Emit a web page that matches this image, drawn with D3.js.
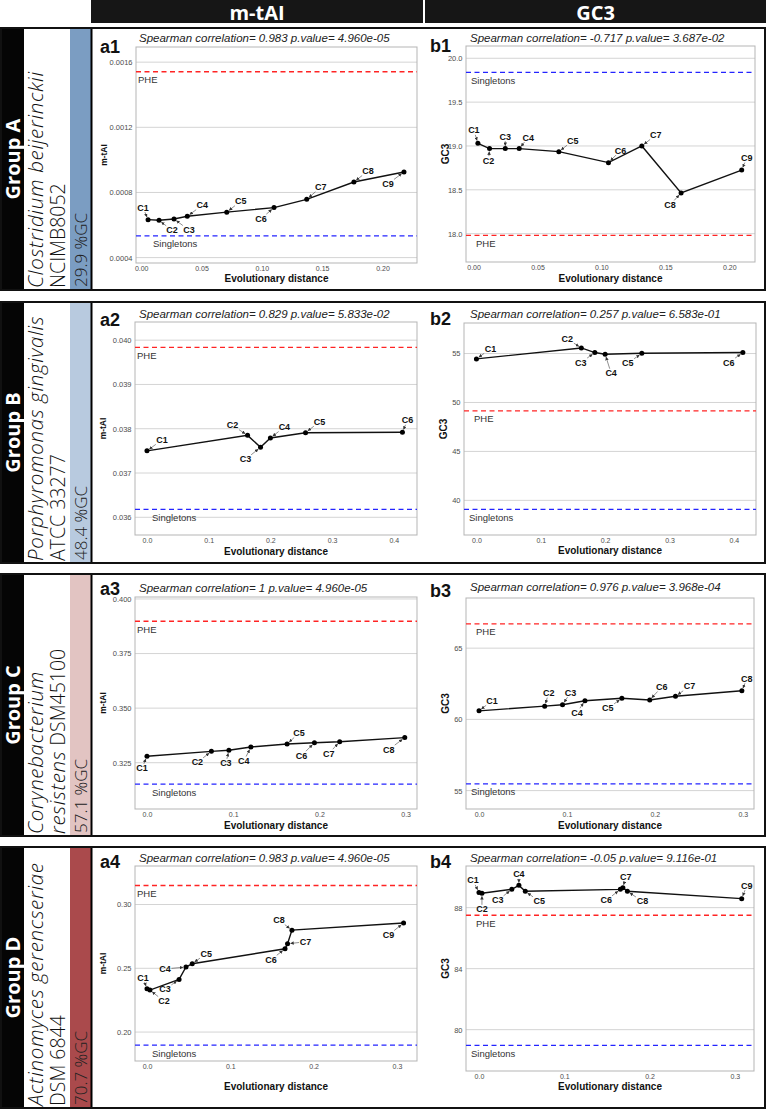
<!DOCTYPE html>
<html><head><meta charset="utf-8">
<script src="https://cdn.jsdelivr.net/npm/d3@7"></script>
<style>body{margin:0;background:#fff}</style>
</head><body>
<svg id="c" width="766" height="1110" xmlns="http://www.w3.org/2000/svg"></svg>
<script>
// ---------------- DATA ----------------
const columnTitles = ["m-tAI", "GC3"];
const groupNames = ["Group A", "Group B", "Group C", "Group D"];
const speciesText = [
  [[["Clostridium beijerinckii", true]], [["NCIMB8052", false]]],
  [[["Porphyromonas gingivalis", true]], [["ATCC 33277", false]]],
  [[["Corynebacterium", true]], [["resistens", true], [" DSM45100", false]]],
  [[["Actinomyces gerencseriae", true]], [["DSM 6844", false]]]
];
const gcContent = ["29.9 %GC", "48.4 %GC", "57.1 %GC", "70.7 %GC"];

// Group A
const clustersA = ["C1","C2","C3","C4","C5","C6","C7","C8","C9"];
const distA_mtai = [0.0057,0.0148,0.0272,0.0382,0.0709,0.1101,0.1372,0.1763,0.2178];
const mtaiA = [0.000633,0.000629,0.000637,0.000654,0.000679,0.000707,0.000758,0.000864,0.000926];
const distA_gc3 = [0.0034,0.0125,0.0248,0.0357,0.0667,0.1055,0.1316,0.1623,0.2097];
const gc3A = [19.03,18.97,18.97,18.97,18.935,18.81,19.0,18.465,18.725];
const refA_mtai = [0.001541, 0.000533];   // PHE, Singletons
const refA_gc3 = [17.98, 19.84];

// Group B
const clustersB = ["C1","C2","C3","C4","C5","C6"];
const distB = [0, 0.163, 0.184, 0.2, 0.257, 0.414];
const mtaiB = [0.03750,0.03785,0.03758,0.03779,0.03791,0.03792];
const gc3B = [54.45,55.57,55.1,54.93,55.03,55.1];
const refB_mtai = [0.039835, 0.03618];
const refB_gc3 = [49.14, 39.08];

// Group C
const clustersC = ["C1","C2","C3","C4","C5","C6","C7","C8"];
const distC = [0, 0.0747, 0.095, 0.1205, 0.1625, 0.1942, 0.2235, 0.299];
const mtaiC = [0.32793,0.3302,0.33068,0.3322,0.33356,0.33416,0.33462,0.3365];
const gc3C = [60.6,60.93,61.03,61.31,61.48,61.36,61.62,62.01];
const refC_mtai = [0.3898, 0.3152];
const refC_gc3 = [66.71, 55.47];

// Group D
const clustersD = ["C1","C2","C3","C4","C5","C6","C7","C8","C9"];
const distD = [0, 0.0035, 0.0385, 0.0468, 0.0543, 0.1657, 0.1687, 0.174, 0.308];
const mtaiD = [0.234,0.2329,0.2413,0.251,0.2536,0.2653,0.2692,0.2799,0.2855];
const gc3D = [89.0,88.94,89.2,89.46,89.07,89.2,89.31,89.07,88.59];
const refD_mtai = [0.3149, 0.1898];
const refD_gc3 = [87.5, 78.97];

const refNames = ["PHE", "Singletons"];
const spearman = [["0.983","4.960e-05"],["-0.717","3.687e-02"],["0.829","5.833e-02"],["0.257","6.583e-01"],
                  ["1","4.960e-05"],["0.976","3.968e-04"],["0.983","4.960e-05"],["-0.05","9.116e-01"]];
const panelIds = ["a1","b1","a2","b2","a3","b3","a4","b4"];

const ticksA_mtai = [0.0004,0.0008,0.0012,0.0016];
const ticksA_gc3 = [18.0,18.5,19.0,19.5,20.0];
const ticksA_x = [0,0.05,0.10,0.15,0.20];
const ticksB_mtai = [0.036,0.037,0.038,0.039,0.040];
const ticksB_gc3 = [40,45,50,55];
const ticksB_x = [0,0.1,0.2,0.3,0.4];
const ticksC_mtai = [0.325,0.350,0.375,0.400];
const ticksC_gc3 = [55,60,65];
const ticksCD_x = [0,0.1,0.2,0.3];
const ticksD_mtai = [0.20,0.25,0.30];
const ticksD_gc3 = [80,84,88];

// ---------------- LAYOUT / STYLE ----------------
const rows = [{t:28,b:290},{t:302,b:563},{t:574,b:836},{t:847,b:1108}];
const gcColors = ["#7b9dc2","#b8cadf","#e2c4c2","#aa4a4c"];
const header = [{x0:91,x1:423},{x0:425,x1:766}];

const panels = [
 {x:distA_mtai,y:mtaiA,lab:clustersA,ref:refA_mtai,yt:ticksA_mtai,yf:".4f",xt:ticksA_x,xf:".2f",yTitle:"m-tAI",
  r:{x0:136,x1:417,y0:47,y1:263},xd:[-0.0043,0.2286],yd:[0.000367,0.001693],titleY:42,labY:53,xTitleY:281.5,
  off:[[-5,-12],[13,10],[15,11],[15,-11],[14,-11],[-13,11],[14,-12],[14,-11],[-16,12]]},
 {x:distA_gc3,y:gc3A,lab:clustersA,ref:refA_gc3,yt:ticksA_gc3,yf:".1f",xt:ticksA_x,xf:".2f",yTitle:"GC3",
  r:{x0:466,x1:755,y0:46,y1:262},xd:[-0.0059,0.2201],yd:[17.677,20.14],titleY:41.5,labY:52,xTitleY:282,
  off:[[-4,-13],[-1,12],[0,-12],[9,-11],[14,-11],[12,-12],[14,-11],[-11,12],[5,-12]]},
 {x:distB,y:mtaiB,lab:clustersB,ref:refB_mtai,yt:ticksB_mtai,yf:".3f",xt:ticksB_x,xf:".1f",yTitle:"m-tAI",
  r:{x0:135,x1:417,y0:322,y1:535},xd:[-0.0194,0.4376],yd:[0.0356,0.04041],titleY:318,labY:325.5,xTitleY:554.5,
  off:[[15,-11],[-15,-10],[-15,12],[14,-11],[14,-11],[5,-12]]},
 {x:distB,y:gc3B,lab:clustersB,ref:refB_gc3,yt:ticksB_gc3,yf:"d",xt:ticksB_x,xf:".1f",yTitle:"GC3",
  r:{x0:464,x1:756,y0:323,y1:535},xd:[-0.0193,0.4344],yd:[36.46,58.12],titleY:318,labY:325,xTitleY:554,
  off:[[14,-10],[-14,-9],[-14,10],[6,19],[-14,10],[-14,10]]},
 {x:distC,y:mtaiC,lab:clustersC,ref:refC_mtai,yt:ticksC_mtai,yf:".3f",xt:ticksCD_x,xf:".1f",yTitle:"m-tAI",
  r:{x0:135,x1:417,y0:597,y1:809},xd:[-0.0139,0.3132],yd:[0.3038,0.4009],titleY:591.5,labY:595,xTitleY:829,
  off:[[-5,12],[-14,11],[-3,13],[-7,14],[12,-11],[-13,13],[-11,12],[-16,12]]},
 {x:distC,y:gc3C,lab:clustersC,ref:refC_gc3,yt:ticksC_gc3,yf:"d",xt:ticksCD_x,xf:".1f",yTitle:"GC3",
  r:{x0:466,x1:754,y0:598,y1:809},xd:[-0.0148,0.3128],yd:[53.71,68.52],titleY:591,labY:596.5,xTitleY:829,
  off:[[13,-10],[4,-13],[8,-12],[-8,12],[-14,10],[12,-13],[14,-10],[5,-12]]},
 {x:distD,y:mtaiD,lab:clustersD,ref:refD_mtai,yt:ticksD_mtai,yf:".2f",xt:ticksCD_x,xf:".1f",yTitle:"m-tAI",
  r:{x0:135,x1:417,y0:866,y1:1061},xd:[-0.0144,0.3241],yd:[0.1773,0.3302],titleY:861.5,labY:868,xTitleY:1090,
  off:[[-4,-11],[14,11],[-14,10],[-21,2],[14,-10],[-14,11],[18,-2],[-13,-10],[-15,12]]},
 {x:distD,y:gc3D,lab:clustersD,ref:refD_gc3,yt:ticksD_gc3,yf:"d",xt:ticksCD_x,xf:".1f",yTitle:"GC3",
  r:{x0:466,x1:754,y0:866,y1:1071},xd:[-0.0152,0.3224],yd:[77.29,90.73],titleY:861.5,labY:868,xTitleY:1090,
  off:[[-6,-12],[0,16],[-14,11],[0,-11],[14,10],[-14,11],[3,-11],[15,10],[5,-13]]}
];

const SANS = "'Liberation Sans', Arial, Helvetica, sans-serif";
const OPEN = "'Open Sans', 'Noto Sans', sans-serif";

// ---------------- DRAW ----------------
const svg = d3.select("#c");
const defs = svg.append("defs");
defs.append("marker").attr("id","arr").attr("viewBox","0 0 6 6").attr("refX",5.5).attr("refY",3)
  .attr("markerWidth",3.5).attr("markerHeight",3.5).attr("markerUnits","userSpaceOnUse").attr("orient","auto")
  .append("path").attr("d","M0,0L6,3L0,6Z").attr("fill","#333");

// header
columnTitles.forEach((t,i)=>{
  const h = header[i];
  svg.append("rect").attr("x",h.x0).attr("y",0).attr("width",h.x1-h.x0).attr("height",23).attr("fill","#161616");
  svg.append("text").attr("x",(h.x0+h.x1)/2).attr("y",12).attr("text-anchor","middle").attr("dominant-baseline","central")
    .attr("fill","#fff").attr("font-family",OPEN).attr("font-weight",700).attr("font-size",20).text(t);
});

// rows (left labels)
rows.forEach((r,i)=>{
  const g = svg.append("g");
  g.append("rect").attr("x",0).attr("y",r.t).attr("width",24).attr("height",r.b-r.t).attr("fill","#050505");
  g.append("rect").attr("x",70).attr("y",r.t).attr("width",21).attr("height",r.b-r.t).attr("fill",gcColors[i]);
  g.append("text").attr("transform",`translate(12.5,${(r.t+r.b)/2}) rotate(-90)`).attr("text-anchor","middle")
    .attr("dominant-baseline","central").attr("fill","#fff").attr("font-family",OPEN).attr("font-weight",700)
    .attr("font-size",20).text(groupNames[i]);
  const lineX = [35, 56.5];
  speciesText[i].forEach((line,j)=>{
    const tx = g.append("text").attr("transform",`translate(${lineX[j]},${r.b-2}) rotate(-90)`)
      .attr("text-anchor","start").attr("dominant-baseline","central").attr("fill","#111")
      .attr("font-family",OPEN).attr("font-weight",300).attr("font-size",19.5);
    line.forEach(seg=>tx.append("tspan").attr("font-style",seg[1]?"italic":"normal")
      .attr("font-size",seg[1]?20.5:19.5).attr("letter-spacing",seg[1]?0.7:0).text(seg[0]));
  });
  g.append("text").attr("transform",`translate(80.5,${r.b-3}) rotate(-90)`).attr("text-anchor","start")
    .attr("dominant-baseline","central").attr("fill","#222").attr("font-family",OPEN).attr("font-weight",300)
    .attr("font-size",17).text(gcContent[i]);
});

// panels
panels.forEach((p,k)=>{
  const g = svg.append("g");
  const r = p.r;
  const x = d3.scaleLinear().domain(p.xd).range([r.x0,r.x1]);
  const y = d3.scaleLinear().domain(p.yd).range([r.y1,r.y0]);
  const isA = k%2===0;

  // grid
  g.selectAll(".grid").data(p.yt).join("line").attr("x1",r.x0).attr("x2",r.x1)
    .attr("y1",d=>y(d)).attr("y2",d=>y(d)).attr("stroke","#d4d4d4").attr("stroke-width",1);
  // border
  g.append("rect").attr("x",r.x0).attr("y",r.y0).attr("width",r.x1-r.x0).attr("height",r.y1-r.y0)
    .attr("fill","none").attr("stroke","#b5b5b5").attr("stroke-width",1);

  // axes
  const ya = g.append("g").attr("transform",`translate(${r.x0},0)`)
    .call(d3.axisLeft(y).tickValues(p.yt).tickFormat(d3.format(p.yf)).tickSize(0).tickPadding(3.5));
  ya.select(".domain").remove();
  ya.selectAll("text").attr("font-size",7.5).attr("fill","#4d4d4d").attr("font-family",SANS);
  const xa = g.append("g").attr("transform",`translate(0,${r.y1})`)
    .call(d3.axisBottom(x).tickValues(p.xt).tickFormat(d3.format(p.xf)).tickSize(0).tickPadding(3.5));
  xa.select(".domain").remove();
  xa.selectAll("text").attr("font-size",7).attr("fill","#4d4d4d").attr("font-family",SANS);

  // axis titles
  g.append("text").attr("x",(r.x0+r.x1)/2).attr("y",p.xTitleY).attr("text-anchor","middle")
    .attr("font-family",SANS).attr("font-weight",700).attr("font-size",10).attr("fill","#111").text("Evolutionary distance");
  const ytx = isA ? r.x0-32 : r.x0-21;
  g.append("text").attr("transform",`translate(${ytx},${(r.y0+r.y1)/2}) rotate(-90)`).attr("text-anchor","middle")
    .attr("dominant-baseline","central").attr("font-family",SANS).attr("font-weight",700)
    .attr("font-size",isA?8.5:10).attr("fill","#111").text(p.yTitle);

  // panel tag and title
  g.append("text").attr("x",isA?100:430).attr("y",p.labY).attr("font-family",SANS).attr("font-weight",700)
    .attr("font-size",18).attr("fill","#111").text(panelIds[k]);
  g.append("text").attr("x",isA?139:470).attr("y",p.titleY).attr("font-family",SANS).attr("font-style","italic")
    .attr("font-size",11.5).attr("fill","#222")
    .text(`Spearman correlation= ${spearman[k][0]} p.value= ${spearman[k][1]}`);

  // reference lines
  const refCol = ["#ff2424","#2424ff"];
  const refOff = isA ? [2,17] : [10,5];
  p.ref.forEach((v,j)=>{
    g.append("line").attr("x1",r.x0).attr("x2",r.x1).attr("y1",y(v)).attr("y2",y(v))
      .attr("stroke",refCol[j]).attr("stroke-width",1.3).attr("stroke-dasharray","5,3.5");
    g.append("text").attr("x",r.x0+refOff[j]).attr("y",y(v)+11.5).attr("font-family",SANS)
      .attr("font-size",9.5).attr("fill","#333").text(refNames[j]);
  });

  // line + points
  const pts = p.x.map((d,i)=>[d,p.y[i],p.lab[i],p.off[i]]);
  g.append("path").datum(pts).attr("d",d3.line().x(d=>x(d[0])).y(d=>y(d[1])))
    .attr("fill","none").attr("stroke","#111").attr("stroke-width",1.4);
  g.selectAll(".pt").data(pts).join("circle").attr("cx",d=>x(d[0])).attr("cy",d=>y(d[1])).attr("r",2.5).attr("fill","#000");

  // labels with leaders
  pts.forEach(d=>{
    const px = x(d[0]), py = y(d[1]);
    const lx = px + d[3][0], ly = py + d[3][1];
    const dx = lx-px, dy = ly-py, len = Math.hypot(dx,dy);
    const hw = 6.5, hh = 4.5;
    const t = Math.min(dx?hw/Math.abs(dx):Infinity, dy?hh/Math.abs(dy):Infinity);
    const ex = lx - dx*t, ey = ly - dy*t;
    const sx = px + dx/len*3, sy = py + dy/len*3;
    if (Math.hypot(ex-sx, ey-sy) > 2) {
      g.append("line").attr("x1",ex).attr("y1",ey).attr("x2",sx).attr("y2",sy)
        .attr("stroke","#444").attr("stroke-width",0.6).attr("marker-end","url(#arr)");
    }
    g.append("text").attr("x",lx).attr("y",ly).attr("text-anchor","middle").attr("dominant-baseline","central")
      .attr("font-family",SANS).attr("font-weight",700).attr("font-size",9).attr("fill","#111").text(d[2]);
  });
});

// row frames and divider
rows.forEach(r=>{
  svg.append("line").attr("x1",91.5).attr("x2",91.5).attr("y1",r.t).attr("y2",r.b).attr("stroke","#000").attr("stroke-width",2);
  svg.append("rect").attr("x",1).attr("y",r.t).attr("width",764).attr("height",r.b-r.t)
    .attr("fill","none").attr("stroke","#111").attr("stroke-width",2);
});
</script>
</body></html>
